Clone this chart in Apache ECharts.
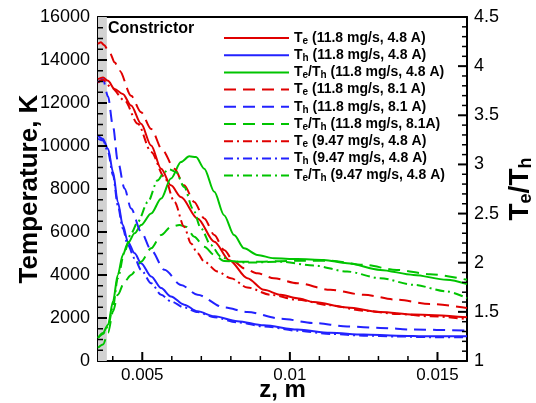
<!DOCTYPE html>
<html><head><meta charset="utf-8">
<script src="https://cdn.jsdelivr.net/npm/echarts@6/dist/echarts.min.js"></script>
<style>html,body{margin:0;padding:0;background:#fff}#c{width:536px;height:403px}</style>
</head><body><div id="c"></div>
<script>
// ---------- axis ticks ----------
const xMajorTicks = [0.005, 0.01, 0.015];
const xMinorTicks = [0.004, 0.006, 0.007, 0.008, 0.009, 0.011, 0.012, 0.013, 0.014];
const tMajorTicks = [2000, 4000, 6000, 8000, 10000, 12000, 14000];
const tMinorTicks = [500,1000,1500,2500,3000,3500,4500,5000,5500,6500,7000,7500,8500,9000,9500,10500,11000,11500,12500,13000,13500,14500,15000,15500];
const rMajorTicks = [1.5, 2, 2.5, 3, 3.5, 4];
const rMinorTicks = [1.1,1.2,1.3,1.4,1.6,1.7,1.8,1.9,2.1,2.2,2.3,2.4,2.6,2.7,2.8,2.9,3.1,3.2,3.3,3.4,3.6,3.7,3.8,3.9,4.1,4.2,4.3,4.4];
const X_MIN = 0.0035, X_MAX = 0.016;
const constrictorRange = [0.0035, 0.0038];

// ---------- data ----------
const seriesNames = [
  'T_e (11.8 mg/s, 4.8 A)', 'T_h (11.8 mg/s, 4.8 A)', 'T_e/T_h (11.8 mg/s, 4.8 A)',
  'T_e (11.8 mg/s, 8.1 A)', 'T_h (11.8 mg/s, 8.1 A)', 'T_e/T_h (11.8 mg/s, 8.1A)',
  'T_e (9.47 mg/s, 4.8 A)', 'T_h (9.47 mg/s, 4.8 A)', 'T_e/T_h (9.47 mg/s, 4.8 A)'
];

// Te, 11.8 mg/s, 4.8 A  [z (m), T (K)]
const te_118_48 = [[0.00350,13110],[0.00367,13190],[0.00384,13030],[0.00406,12650],[0.00434,12420],[0.00462,11880],[0.00496,11030],[0.00530,10020],[0.00564,8940],[0.00597,8170],[0.00631,7630],[0.00687,6630],[0.00744,5550],[0.00795,4690],[0.00856,3850],[0.00912,3310],[0.00969,3080],[0.01025,2920],[0.01081,2740],[0.01194,2490],[0.01306,2280],[0.01419,2160],[0.01600,2030]];
// Th, 11.8 mg/s, 4.8 A
const th_118_48 = [[0.00350,10490],[0.00367,10330],[0.00384,9870],[0.00401,8790],[0.00417,7400],[0.00434,6320],[0.00451,5550],[0.00474,5010],[0.00496,4550],[0.00530,3930],[0.00564,3390],[0.00597,3000],[0.00642,2620],[0.00687,2310],[0.00744,2080],[0.00822,1850],[0.00912,1660],[0.01025,1460],[0.01137,1310],[0.01250,1230],[0.01362,1180],[0.01475,1150],[0.01600,1150]];
// Te/Th, 11.8 mg/s, 4.8 A
const r_118_48 = [[0.00350,1.235],[0.00367,1.286],[0.00384,1.370],[0.00401,1.607],[0.00417,1.876],[0.00434,2.079],[0.00451,2.197],[0.00474,2.299],[0.00496,2.383],[0.00530,2.501],[0.00564,2.653],[0.00597,2.856],[0.00631,3.024],[0.00659,3.082],[0.00682,3.075],[0.00710,2.957],[0.00744,2.721],[0.00777,2.484],[0.00811,2.282],[0.00845,2.146],[0.00890,2.079],[0.00946,2.045],[0.01025,2.038],[0.01115,2.028],[0.01194,1.995],[0.01306,1.927],[0.01419,1.876],[0.01531,1.826],[0.01600,1.782]];

// Te, 11.8 mg/s, 8.1 A
const te_118_81 = [[0.00350,14750],[0.00360,14830],[0.00370,14700],[0.00391,14300],[0.00407,13880],[0.00423,13500],[0.00462,12340],[0.00496,11570],[0.00530,10790],[0.00569,9790],[0.00609,8940],[0.00642,8170],[0.00676,7400],[0.00710,6630],[0.00744,5860],[0.00777,5160],[0.00811,4620],[0.00845,4310],[0.00890,4080],[0.00946,3850],[0.01025,3620],[0.01137,3310],[0.01250,3080],[0.01362,2850],[0.01475,2650],[0.01600,2460]];
// Th, 11.8 mg/s, 8.1 A
const th_118_81 = [[0.00350,12950],[0.00367,13110],[0.00384,12300],[0.00401,10900],[0.00417,9300],[0.00440,8020],[0.00462,7090],[0.00496,6010],[0.00530,5160],[0.00575,4240],[0.00631,3540],[0.00687,3080],[0.00777,2490],[0.00856,2280],[0.00969,1970],[0.01081,1770],[0.01194,1610],[0.01306,1540],[0.01419,1460],[0.01600,1410]];
// Te/Th, 11.8 mg/s, 8.1 A
const r_118_81 = [[0.00350,1.134],[0.00367,1.168],[0.00384,1.286],[0.00401,1.505],[0.00417,1.674],[0.00440,1.809],[0.00462,1.876],[0.00496,2.011],[0.00530,2.146],[0.00564,2.281],[0.00597,2.366],[0.00626,2.383],[0.00648,2.366],[0.00676,2.265],[0.00710,2.163],[0.00744,2.079],[0.00777,2.018],[0.00822,2.011],[0.00912,2.011],[0.01025,2.021],[0.01137,2.021],[0.01250,1.978],[0.01362,1.927],[0.01475,1.883],[0.01600,1.826]];

// Te, 9.47 mg/s, 4.8 A
const te_947_48 = [[0.00350,12950],[0.00367,13080],[0.00395,12720],[0.00440,12110],[0.00485,11030],[0.00530,9720],[0.00575,8560],[0.00609,7400],[0.00642,6240],[0.00665,5470],[0.00687,5010],[0.00710,4620],[0.00755,4160],[0.00800,3850],[0.00856,3420],[0.00935,3080],[0.01025,2850],[0.01137,2590],[0.01250,2340],[0.01362,2190],[0.01475,2080],[0.01600,1950]];
// Th, 9.47 mg/s, 4.8 A
const th_947_48 = [[0.00350,10330],[0.00367,10260],[0.00384,9720],[0.00401,8640],[0.00417,7250],[0.00434,6170],[0.00451,5400],[0.00474,4780],[0.00496,4240],[0.00530,3620],[0.00564,3080],[0.00597,2770],[0.00642,2490],[0.00687,2280],[0.00744,2030],[0.00822,1800],[0.00912,1610],[0.01025,1410],[0.01137,1260],[0.01250,1180],[0.01362,1140],[0.01475,1110],[0.01600,1110]];
// Te/Th, 9.47 mg/s, 4.8 A
const r_947_48 = [[0.00350,1.235],[0.00367,1.275],[0.00384,1.353],[0.00401,1.556],[0.00417,1.843],[0.00440,2.113],[0.00462,2.298],[0.00485,2.416],[0.00519,2.619],[0.00552,2.838],[0.00575,2.923],[0.00592,2.950],[0.00614,2.923],[0.00642,2.771],[0.00671,2.552],[0.00699,2.349],[0.00732,2.180],[0.00766,2.062],[0.00800,2.018],[0.00856,2.001],[0.00969,2.011],[0.01081,1.971],[0.01194,1.910],[0.01306,1.843],[0.01419,1.775],[0.01531,1.708],[0.01600,1.640]];

// ---------- chart ----------
const FONT = '"Liberation Sans", Arial, Helvetica, sans-serif';
const RED = '#e00000', BLUE = '#2222ff', GREEN = '#00c400';
const SOLID = 'solid', DASH = [12, 7], DASHDOT = [9, 4, 2, 4];

const chart = echarts.init(document.getElementById('c'), null, {renderer: 'canvas'});

function mk(name, data, color, dash, yIdx) {
  return {
    name: name, type: 'line', data: data, xAxisIndex: 0, yAxisIndex: yIdx,
    symbol: 'none', smooth: 0.3, smoothMonotone: 'x', z: 3,
    lineStyle: {color: color, width: 2, type: dash},
    itemStyle: {color: color}
  };
}

// inward axis ticks, positioned through the axis scales
// dir: 'up' (bottom axis), 'right' (left axis), 'left' (right axis)
function tickSeries(values, yIdx, dir, len, width) {
  const data = values.map(v => dir === 'up' ? [v, 0] : [dir === 'right' ? X_MIN : X_MAX, v]);
  return {
    type: 'custom', xAxisIndex: 0, yAxisIndex: yIdx, z: 6, silent: true, clip: false,
    data: data,
    renderItem: (params, api) => {
      const p = api.coord([api.value(0), api.value(1)]);
      let x2 = p[0], y2 = p[1];
      if (dir === 'up') y2 -= len; else if (dir === 'right') x2 += len; else x2 -= len;
      return {type: 'line', shape: {x1: p[0], y1: p[1], x2: x2, y2: y2}, style: {stroke: '#000', lineWidth: width}};
    }
  };
}

const toRich = s => s.replace(/_(\w)/g, '{s|$1}');

const series = [
  mk(seriesNames[0], te_118_48, RED, SOLID, 0),
  mk(seriesNames[1], th_118_48, BLUE, SOLID, 0),
  mk(seriesNames[2], r_118_48, GREEN, SOLID, 1),
  mk(seriesNames[3], te_118_81, RED, DASH, 0),
  mk(seriesNames[4], th_118_81, BLUE, DASH, 0),
  mk(seriesNames[5], r_118_81, GREEN, DASH, 1),
  mk(seriesNames[6], te_947_48, RED, DASHDOT, 0),
  mk(seriesNames[7], th_947_48, BLUE, DASHDOT, 0),
  mk(seriesNames[8], r_947_48, GREEN, DASHDOT, 1),
  {
    name: 'constrictor', type: 'line', data: [], xAxisIndex: 0, yAxisIndex: 0, z: 1,
    markArea: {
      silent: true,
      itemStyle: {color: '#d2d2d2'},
      data: [[{xAxis: constrictorRange[0]}, {xAxis: constrictorRange[1]}]]
    }
  },
  tickSeries(xMajorTicks, 0, 'up', 9, 2),
  tickSeries(xMinorTicks, 0, 'up', 5, 1.5),
  tickSeries(tMajorTicks, 0, 'right', 9, 2),
  tickSeries(tMinorTicks, 0, 'right', 5, 1.5),
  tickSeries(rMajorTicks, 1, 'left', 9, 2),
  tickSeries(rMinorTicks, 1, 'left', 5, 1.5)
];

const tickLabel = {color: '#000', fontSize: 18, fontFamily: FONT};
const blackLine = {show: true, onZero: false, lineStyle: {color: '#000', width: 2}};

const option = {
  animation: false,
  backgroundColor: '#fff',
  grid: {left: 98, right: 69, top: 17, bottom: 42, show: false, containLabel: false, outerBoundsMode: 'none'},
  legend: {
    data: seriesNames,
    orient: 'vertical', left: 223, top: 30, padding: 0,
    itemWidth: 65, itemHeight: 14, itemGap: 1.2,
    itemStyle: {opacity: 0},
    formatter: name => toRich(name),
    textStyle: {
      fontSize: 14, fontWeight: 'bold', fontFamily: FONT, color: '#000',
      lineHeight: 16,
      rich: {s: {fontSize: 10, fontWeight: 'bold', fontFamily: FONT, color: '#000', lineHeight: 10, verticalAlign: 'bottom', padding: [4, 0, 0, 0]}}
    }
  },
  graphic: [{
    type: 'text', left: 108, top: 21, z: 10,
    style: {text: 'Constrictor', fontSize: 16, fontWeight: 'bold', fontFamily: FONT, fill: '#000'}
  }],
  xAxis: [{
    type: 'value', min: X_MIN, max: X_MAX, position: 'bottom',
    axisLine: blackLine, axisTick: {show: false},
    axisLabel: {customValues: xMajorTicks, formatter: v => String(v), margin: 6, ...tickLabel, fontSize: 17},
    splitLine: {show: false},
    name: 'z, m', nameLocation: 'middle', nameGap: 17, nameMoveOverlap: false,
    nameTextStyle: {fontSize: 24, fontWeight: 'bold', fontFamily: FONT, color: '#000', verticalAlign: 'top'}
  }, {
    // top frame line
    type: 'value', min: X_MIN, max: X_MAX, position: 'top',
    axisLine: blackLine, axisTick: {show: false}, axisLabel: {show: false}, splitLine: {show: false}
  }],
  yAxis: [{
    type: 'value', min: 0, max: 16000, interval: 2000, position: 'left',
    axisLine: blackLine, axisTick: {show: false},
    axisLabel: {formatter: v => String(v), margin: 8, ...tickLabel},
    splitLine: {show: false},
    name: 'Temperature, K', nameLocation: 'middle', nameGap: 55, nameRotate: 90, nameMoveOverlap: false,
    nameTextStyle: {fontSize: 26, fontWeight: 'bold', fontFamily: FONT, color: '#000'}
  }, {
    type: 'value', min: 1, max: 4.5, interval: 0.5, position: 'right',
    axisLine: blackLine, axisTick: {show: false},
    axisLabel: {formatter: v => String(v), margin: 7, ...tickLabel},
    splitLine: {show: false},
    name: '{b|T}{s|e}{b|/T}{s|h}', nameLocation: 'middle', nameGap: 38, nameRotate: 90, nameMoveOverlap: false,
    nameTextStyle: {
      fontSize: 28, fontWeight: 'bold', fontFamily: FONT, color: '#000',
      rich: {
        b: {fontSize: 28, fontWeight: 'bold', fontFamily: FONT, color: '#000', lineHeight: 30},
        s: {fontSize: 18, fontWeight: 'bold', fontFamily: FONT, color: '#000', lineHeight: 18, verticalAlign: 'bottom', padding: [6, 0, 0, 0]}
      }
    }
  }],
  series: series
};
chart.setOption(option);
</script>
</body></html>
